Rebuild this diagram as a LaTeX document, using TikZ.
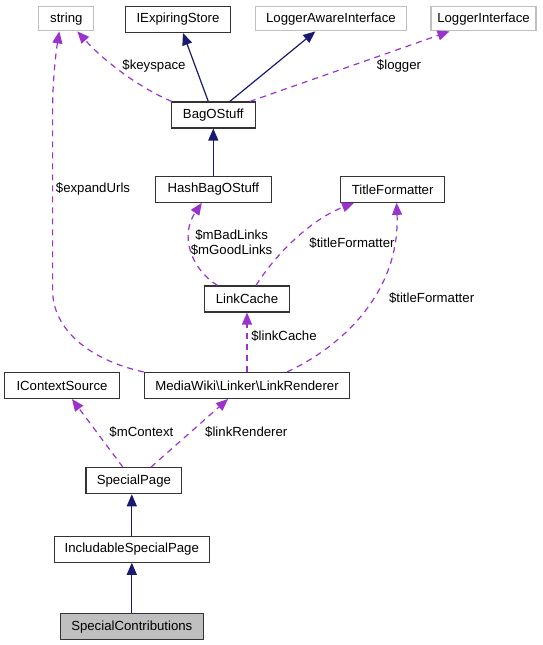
\documentclass[tikz,border=0pt]{standalone}
\usepackage{fontspec}
\setmainfont{Liberation Sans}
\usetikzlibrary{arrows.meta}

\definecolor{edgeblue}{HTML}{191970}
\definecolor{edgepurple}{HTML}{9A32CD}
\definecolor{extgray}{HTML}{BFBFBF}

\begin{document}
\begin{tikzpicture}[
    x=1pt, y=-1pt,
    every node/.style={font=\fontsize{13.2}{15}\selectfont, inner sep=0pt},
    cls/.style={draw=black!80, line width=1.1pt, minimum height=26pt, anchor=center},
    extcls/.style={cls, draw=extgray},
    inherit/.style={draw=edgeblue, line width=1.2pt, -{Triangle[length=12pt,width=10pt]}},
    member/.style={draw=edgepurple, line width=1.2pt, dash pattern=on 6pt off 5pt,
                   -{Triangle[length=12pt,width=10pt]}},
    lbl/.style={align=center}
]
\useasboundingbox (0,0) rectangle (543,645);

% classes, top to bottom
\node[extcls, minimum width=55pt, minimum height=24.5pt] (strng)   at (66.3,18.6)  {string};
\node[cls,    minimum width=105pt]                       (iexp)    at (178,19.5)   {IExpiringStore};
\node[extcls, minimum width=151pt, minimum height=24.5pt] (lai)    at (330.9,18.6) {LoggerAwareInterface};
\node[extcls, minimum width=105pt, minimum height=24.5pt] (li)     at (483.5,18.6) {LoggerInterface};
\node[cls,    minimum width=84pt]                        (bag)     at (213.3,115)  {BagOStuff};
\node[cls,    minimum width=116pt]                       (hash)    at (213.3,189.3) {HashBagOStuff};
\node[cls,    minimum width=104.5pt]                     (tf)      at (392.6,189.3) {TitleFormatter};
\node[cls,    minimum width=85pt]                        (lc)      at (247,299)    {LinkCache};
\node[cls,    minimum width=114.7pt]                     (ictx)    at (62,385.5)   {IContextSource};
\node[cls,    minimum width=205.6pt]                     (lr)      at (247,385.5)  {MediaWiki\textbackslash Linker\textbackslash LinkRenderer};
\node[cls,    minimum width=95.8pt]                      (sp)      at (133.9,480.7) {SpecialPage};
\node[cls,    minimum width=155pt]                       (inc)     at (131.8,549.2) {IncludableSpecialPage};
\node[cls,    minimum width=143pt, fill=extgray]         (contrib) at (131.8,626.7) {SpecialContributions};

% inheritance
\draw[inherit] (bag) -- (iexp);
\draw[inherit] (bag) -- (lai);
\draw[inherit] (hash) -- (bag);
\draw[inherit] (inc) -- (inc |- sp.south);
\draw[inherit] (contrib) -- (inc);

% members
\draw[member] ([xshift=1pt]bag.north west) .. controls (140,88) and (105,62) .. ([xshift=11pt]strng.south);
\draw[member] ([xshift=-6pt]bag.north east) -- ([xshift=-34pt]li.south);
\draw[member] ([xshift=-29.5pt]lc.north) .. controls (190,268) and (180,235) .. ([xshift=-11.5pt]hash.south);
\draw[member] ([xshift=9pt]lc.north) .. controls (275,255) and (310,220) .. ([xshift=-38.6pt]tf.south);
\draw[member] (lr) -- (lc);
\draw[member] ([xshift=40pt]lr.north) .. controls (345,345) and (400,290) .. ([xshift=4pt]tf.south);
\draw[member] (lr.north west) .. controls (90,360) and (52.6,330) .. (52.6,290)
    -- (52.6,110) .. controls (52.6,80) and (56,52) .. ([xshift=-7pt]strng.south);
\draw[member] ([xshift=-11pt]sp.north) -- ([xshift=10pt]ictx.south);
\draw[member] ([xshift=17pt]sp.north) -- ([xshift=-19pt]lr.south);

% edge labels
\node[lbl] (lblkeyspace) at (154,66)    {\$keyspace};
\node[lbl] (lbllogger)   at (399,66)    {\$logger};
\node[lbl] (lblexpand)   at (93,188.6)  {\$expandUrls};
\node[lbl] (lbllinks)    at (231.6,243) {\$mBadLinks\\\$mGoodLinks};
\node[lbl] (lbltfa)      at (352,243)   {\$titleFormatter};
\node[lbl] (lbltfb)      at (431.6,297.7) {\$titleFormatter};
\node[lbl] (lbllc)       at (284,336)   {\$linkCache};
\node[lbl] (lblctx)      at (141.4,432.3) {\$mContext};
\node[lbl] (lbllr)       at (246.3,432.3) {\$linkRenderer};
\end{tikzpicture}
\end{document}
